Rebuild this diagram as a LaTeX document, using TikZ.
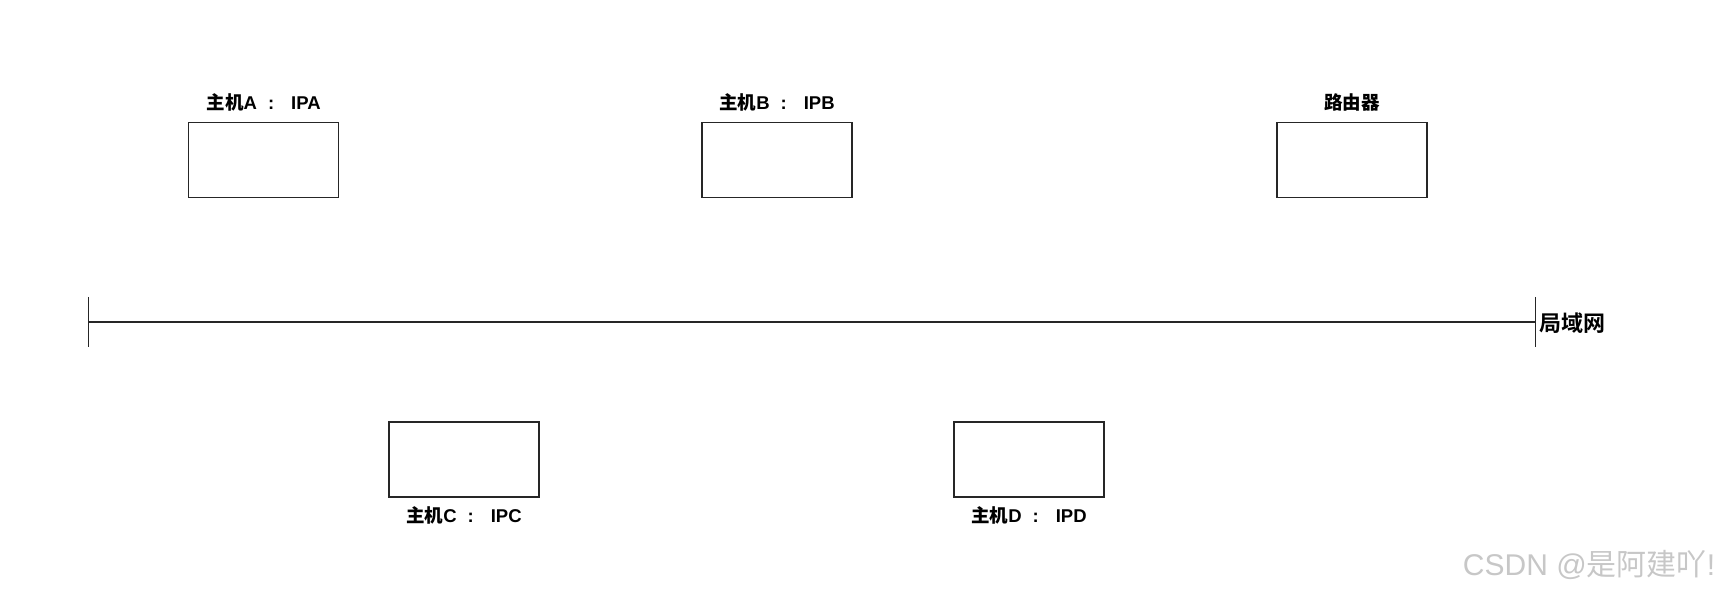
\documentclass[tikz,border=0pt]{standalone}
\usepackage{fontspec}
\setmainfont{Liberation Sans}
\newfontfamily\cjk{Noto Sans CJK SC}
\newfontfamily\cjkbold{Noto Sans CJK SC Bold}
\usetikzlibrary{positioning,calc}
\newcommand{\ipsep}{\hspace{11pt}:\hspace{17pt}}

\begin{document}
\begin{tikzpicture}[x=1pt,y=-1pt,
  hostbox/.style={draw=black!85,line width=1.1pt,minimum width=150pt,minimum height=75pt,inner sep=0pt},
  hostlabel/.style={font=\bfseries\fontsize{18.5}{18.5}\selectfont,inner sep=0pt,text height=13pt,text depth=4pt},
  lanlabel/.style={font=\cjkbold\fontsize{22}{22}\selectfont,inner sep=0pt}]

\useasboundingbox (0,0) rectangle (1728,593);

% hosts above the LAN
\node[hostbox] (hostA) at (263.7,159.7) {};
\node[hostbox] (hostB) at (777,159.7) {};
\node[hostbox] (router) at (1352,159.7) {};
\node[hostlabel,above=8pt of hostA] (labA) {{\cjkbold 主机}A\ipsep IPA};
\node[hostlabel,above=8pt of hostB] (labB) {{\cjkbold 主机}B\ipsep IPB};
\node[hostlabel,above=8pt of router] (labR) {{\cjkbold 路由器}};

% hosts below the LAN
\node[hostbox] (hostC) at (464,459.5) {};
\node[hostbox] (hostD) at (1029,459.5) {};
\node[hostlabel,below=12pt of hostC] (labC) {{\cjkbold 主机}C\ipsep IPC};
\node[hostlabel,below=12pt of hostD] (labD) {{\cjkbold 主机}D\ipsep IPD};

% the LAN
\coordinate (lanL) at (88,322);
\coordinate (lanR) at (1535,322);
\draw[black!85,line width=1.1pt] (lanL) -- (lanR);
\draw[black!85,line width=1pt] ($(lanL)+(0,-25)$) -- ($(lanL)+(0,25)$);
\draw[black!85,line width=1pt] ($(lanR)+(0,-25)$) -- ($(lanR)+(0,25)$);
\node[lanlabel,anchor=west] (lan) at ($(lanR)+(4,1)$) {局域网};

\node[text=black!22,font=\fontsize{30}{30}\selectfont,inner sep=0pt] (mark) at (1589,565) {CSDN @{\cjk 是阿建吖}!};

\end{tikzpicture}
\end{document}
